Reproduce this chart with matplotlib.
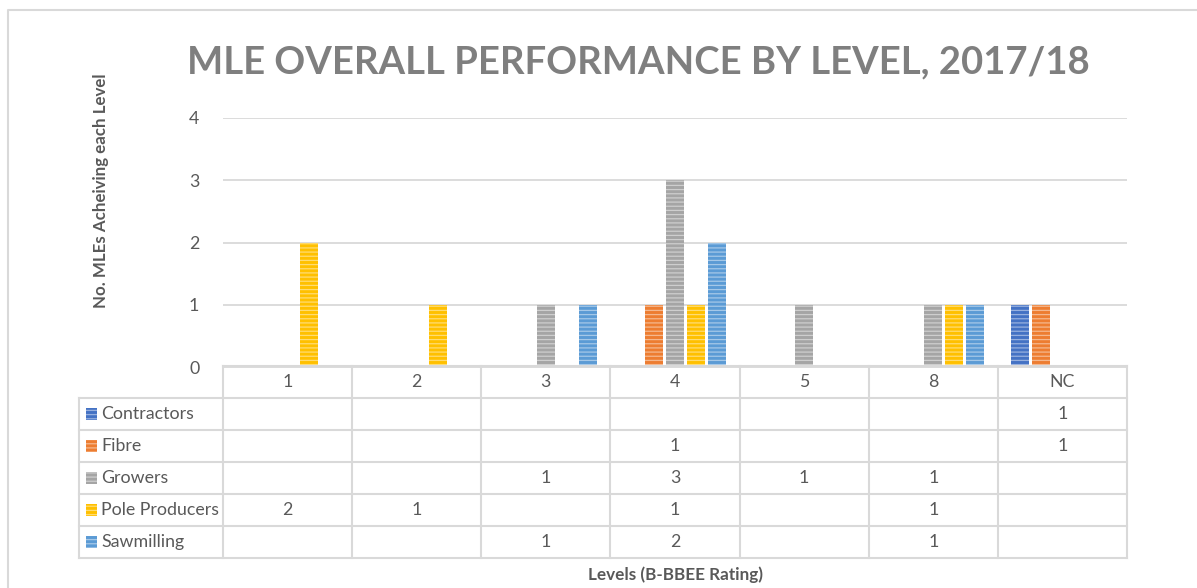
import matplotlib
matplotlib.use("Agg")
import matplotlib.pyplot as plt
from matplotlib.patches import Rectangle
import matplotlib.colors as mcolors
import numpy as np

# ---- data ----
levels = ["1", "2", "3", "4", "5", "8", "NC"]
series_names = ["Contractors", "Fibre", "Growers", "Pole Producers", "Sawmilling"]
contractors = [0, 0, 0, 0, 0, 0, 1]
fibre = [0, 0, 0, 1, 0, 0, 1]
growers = [0, 0, 1, 3, 1, 1, 0]
pole_producers = [2, 1, 0, 1, 0, 1, 0]
sawmilling = [0, 0, 1, 2, 0, 1, 0]
series_values = [contractors, fibre, growers, pole_producers, sawmilling]
series_colors = ["#4472C4", "#ED7D31", "#A5A5A5", "#FFC000", "#5B9BD5"]

title = "MLE OVERALL PERFORMANCE BY LEVEL, 2017/18"
y_label = "No. MLEs Acheiving each Level"
x_label = "Levels (B-BBEE Rating)"

FONT = "Lato"
TEXT = "#595959"
GRID = "#D9D9D9"
FS = 12.8

W, H = 1197, 588
fig = plt.figure(figsize=(W / 100, H / 100), dpi=100)
plt.rcParams["hatch.linewidth"] = 0.9


def px_rect(x0, y0, x1, y1):
    return [x0 / W, 1 - y1 / H, (x1 - x0) / W, (y1 - y0) / H]


def lighten(c, amt):
    r, g, b = mcolors.to_rgb(c)
    return (r + (1 - r) * amt, g + (1 - g) * amt, b + (1 - b) * amt)


# chart border
bg = fig.add_axes([0, 0, 1, 1])
bg.set_xlim(0, W)
bg.set_ylim(H, 0)
bg.axis("off")
bg.plot([8, 8, W + 5], [H + 5, 10, 10], color=GRID, lw=1.5, solid_capstyle="butt")

# ---- bar area ----
PX_L, PX_R, PX_T, PX_B = 223, 1127, 118, 367
ax = fig.add_axes(px_rect(PX_L, PX_T, PX_R, PX_B))
n_cat = len(levels)
x = np.arange(n_cat)
slot = 21 / ((PX_R - PX_L) / n_cat)
bar_w = 18 / ((PX_R - PX_L) / n_cat)
for j, (vals, col) in enumerate(zip(series_values, series_colors)):
    pos = x + (j - 2) * slot
    ax.bar(pos, vals, width=bar_w, color=col, edgecolor="none", zorder=3)
    ax.bar(pos, vals, width=bar_w, color="none", hatch="----",
           edgecolor=lighten(col, 0.45), linewidth=0, zorder=4)

ax.set_xlim(-0.5, n_cat - 0.5)
ax.set_ylim(0, 4)
ax.set_yticks([0, 1, 2, 3, 4])
ax.yaxis.grid(True, color=GRID, lw=1.3)
ax.set_axisbelow(True)
ax.set_xticks([])
for s in ["top", "right", "left"]:
    ax.spines[s].set_visible(False)
ax.spines["bottom"].set_color(GRID)
ax.spines["bottom"].set_linewidth(1.3)
ax.tick_params(axis="y", length=0, pad=17, labelsize=FS, labelcolor=TEXT)
for t in ax.get_yticklabels():
    t.set_fontfamily(FONT)

# ---- data table ----
T_L, T_T, T_B = 79, 366, 558
cat_px = (PX_R - PX_L) / n_cat
legend_w = (PX_L - T_L) / cat_px
tb = fig.add_axes(px_rect(T_L, T_T, PX_R, T_B))
tb.set_xlim(-0.5 - legend_w, n_cat - 0.5)
tb.set_ylim(len(series_names) + 1, 0)
tb.axis("off")
lw_t = 1.5
left_edge = -0.5 - legend_w
right_edge = n_cat - 0.5
# header row (categories only)
tb.plot([-0.5, right_edge], [0, 0], color=GRID, lw=lw_t, clip_on=False)
for r in range(1, len(series_names) + 2):
    tb.plot([left_edge, right_edge], [r, r], color=GRID, lw=lw_t, clip_on=False)
tb.plot([left_edge, left_edge], [1, len(series_names) + 1], color=GRID, lw=lw_t, clip_on=False)
for c in range(n_cat + 1):
    tb.plot([c - 0.5, c - 0.5], [0, len(series_names) + 1], color=GRID, lw=lw_t, clip_on=False)

for i, lab in enumerate(levels):
    tb.text(i, 0.5, lab, ha="center", va="center", fontsize=FS,
            color=TEXT, family=FONT)

key_w = 11 / cat_px
for r, (name, vals, col) in enumerate(zip(series_names, series_values, series_colors)):
    yc = r + 1.5
    kx = left_edge + 7 / cat_px
    tb.add_patch(Rectangle((kx, yc - 0.19), key_w, 0.38, facecolor=col,
                           edgecolor="none", clip_on=False))
    tb.add_patch(Rectangle((kx, yc - 0.19), key_w, 0.38, facecolor="none",
                           hatch="----", edgecolor=lighten(col, 0.45), lw=0, clip_on=False))
    tb.text(kx + key_w + 4 / cat_px, yc, name, ha="left", va="center",
            fontsize=FS, color=TEXT, family=FONT)
    for i, v in enumerate(vals):
        if v:
            tb.text(i, yc, str(v), ha="center", va="center", fontsize=FS,
                    color=TEXT, family=FONT)

# ---- titles ----
fig.text(638 / W, 1 - 62 / H, title, ha="center", va="center", fontsize=27.5,
         fontweight="bold", color="#7F7F7F", family=FONT)
fig.text(101 / W, 1 - 191 / H, y_label, ha="center", va="center", rotation=90,
         fontsize=12.2, fontweight="bold", color=TEXT, family=FONT)
fig.text(675 / W, 1 - 575 / H, x_label, ha="center", va="center",
         fontsize=12.3, fontweight="bold", color=TEXT, family=FONT)

fig.savefig("out.png", dpi=100)
